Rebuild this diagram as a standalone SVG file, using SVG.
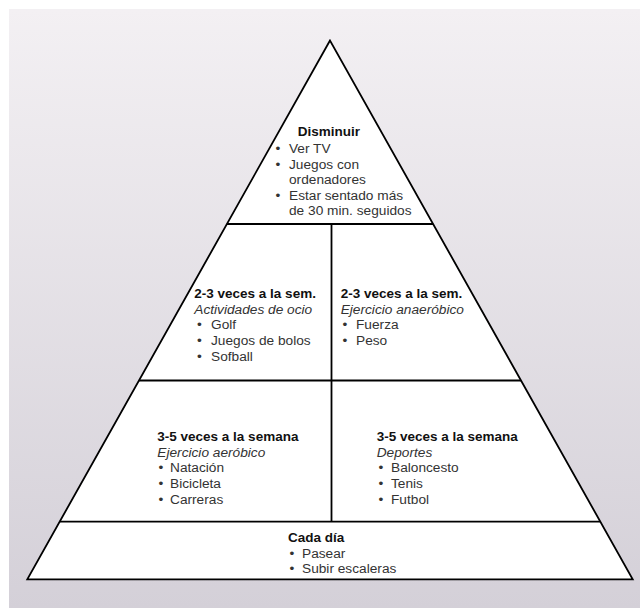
<svg xmlns="http://www.w3.org/2000/svg" width="640" height="608" viewBox="0 0 640 608">
  <defs>
    <linearGradient id="bg" x1="0" y1="0" x2="0" y2="1">
      <stop offset="0" stop-color="#f3f0f3"/>
      <stop offset="1" stop-color="#d4d0d8"/>
    </linearGradient>
  </defs>
  <style>
    text { font-family: "Liberation Sans", Arial, sans-serif; font-size: 13.7px; fill: #333; }
    .h { font-weight: bold; font-size: 13.5px; fill: #111; }
    .i { font-style: italic; }
    .edge { fill: none; stroke: #000; stroke-width: 1.8; }
  </style>

  <!-- backdrop -->
  <rect x="9" y="9" width="631" height="599" fill="url(#bg)"/>

  <!-- pyramid outline -->
  <polygon points="330,40.5 27.3,579.3 632.7,579.3" fill="#fff" stroke="#000" stroke-width="1.8" stroke-linejoin="miter"/>

  <!-- tier dividers -->
  <g id="dividers" class="edge">
    <line x1="226.9" y1="224" x2="433.1" y2="224"/>
    <line x1="139" y1="380.5" x2="521" y2="380.5"/>
    <line x1="59.7" y1="521.7" x2="600.3" y2="521.7"/>
    <line x1="331.5" y1="224" x2="331.5" y2="521.7"/>
  </g>

  <!-- top tier -->
  <g id="tier-disminuir">
    <text class="h" x="329" y="136" text-anchor="middle">Disminuir</text>
    <text x="275.5" y="153">•</text><text x="289" y="153">Ver TV</text>
    <text x="275.5" y="168.5">•</text><text x="289" y="168.5">Juegos con</text>
    <text x="289" y="184">ordenadores</text>
    <text x="275.5" y="199.5">•</text><text x="289" y="199.5">Estar sentado más</text>
    <text x="289" y="215">de 30 min. seguidos</text>
  </g>

  <!-- second tier, left -->
  <g id="tier-ocio">
    <text class="h" x="194.3" y="298">2-3 veces a la sem.</text>
    <text class="i" x="194.3" y="313.7">Actividades de ocio</text>
    <text x="197" y="329.4">•</text><text x="211" y="329.4">Golf</text>
    <text x="197" y="345">•</text><text x="211" y="345">Juegos de bolos</text>
    <text x="197" y="360.7">•</text><text x="211" y="360.7">Sofball</text>
  </g>

  <!-- second tier, right -->
  <g id="tier-anaerobico">
    <text class="h" x="340.7" y="298">2-3 veces a la sem.</text>
    <text class="i" x="340.7" y="313.7">Ejercicio anaeróbico</text>
    <text x="342.5" y="329.4">•</text><text x="356" y="329.4">Fuerza</text>
    <text x="342.5" y="345">•</text><text x="356" y="345">Peso</text>
  </g>

  <!-- third tier, left -->
  <g id="tier-aerobico">
    <text class="h" x="157.3" y="441">3-5 veces a la semana</text>
    <text class="i" x="157.3" y="456.5">Ejercicio aeróbico</text>
    <text x="158.5" y="472.3">•</text><text x="170" y="472.3">Natación</text>
    <text x="158.5" y="488.3">•</text><text x="170" y="488.3">Bicicleta</text>
    <text x="158.5" y="504.3">•</text><text x="170" y="504.3">Carreras</text>
  </g>

  <!-- third tier, right -->
  <g id="tier-deportes">
    <text class="h" x="376.7" y="441">3-5 veces a la semana</text>
    <text class="i" x="376.7" y="456.5">Deportes</text>
    <text x="378.5" y="472.3">•</text><text x="391" y="472.3">Baloncesto</text>
    <text x="378.5" y="488.3">•</text><text x="391" y="488.3">Tenis</text>
    <text x="378.5" y="504.3">•</text><text x="391" y="504.3">Futbol</text>
  </g>

  <!-- base tier -->
  <g id="tier-cada-dia">
    <text class="h" x="288" y="541.7">Cada día</text>
    <text x="289.5" y="557.7">•</text><text x="302" y="557.7">Pasear</text>
    <text x="289.5" y="573.3">•</text><text x="302" y="573.3">Subir escaleras</text>
  </g>
</svg>
